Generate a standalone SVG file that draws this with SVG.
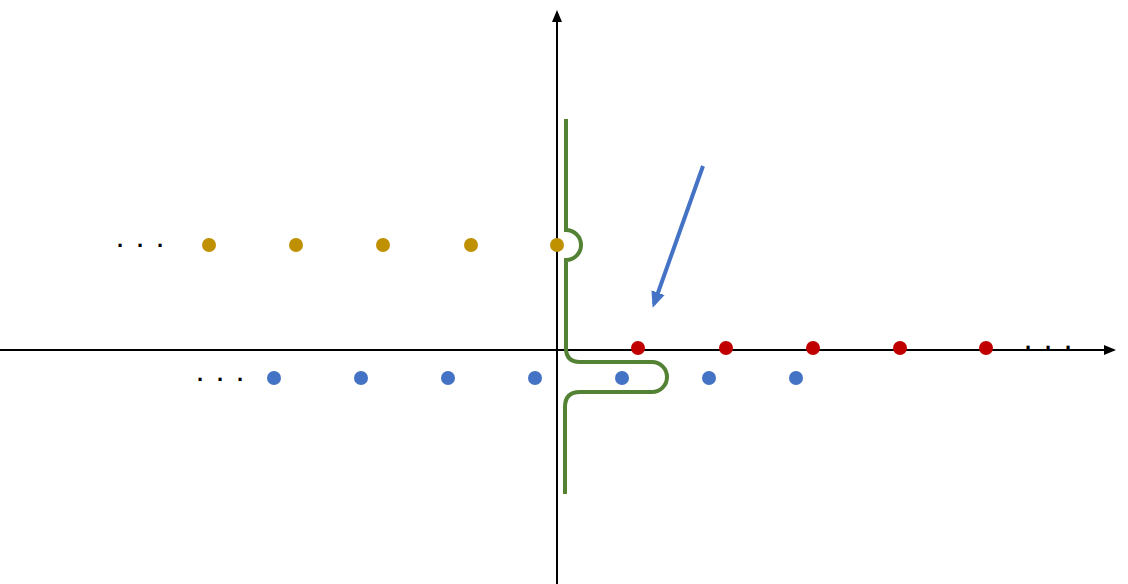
<svg xmlns="http://www.w3.org/2000/svg" width="1128" height="584" viewBox="0 0 1128 584">
<style>
.ax{stroke:#000;stroke-width:2;fill:none}
.g{fill:#BF9000}.r{fill:#C00000}.b{fill:#4472C4}
.el{font-family:"Liberation Sans",sans-serif;font-size:22px;font-weight:bold;fill:#000}
</style>
<defs>
<marker id="ah" markerWidth="12" markerHeight="12" refX="10" refY="6" orient="auto" markerUnits="userSpaceOnUse" viewBox="0 0 12 12"><path d="M0,1L12,6L0,11z" fill="#000"/></marker>
<marker id="bh" markerWidth="16" markerHeight="16" refX="12" refY="8" orient="auto" markerUnits="userSpaceOnUse" viewBox="0 0 16 16"><path d="M0,1L16,8L0,15z" fill="#4472C4"/></marker>
</defs>
<g id="connectors">
<line class="ax" x1="0" y1="350" x2="1114" y2="350" marker-end="url(#ah)"/>
<line class="ax" x1="557" y1="584" x2="557" y2="12" marker-end="url(#ah)"/>
<path d="M566,119V230A15,15 0 0 1 566,260V348Q566,362 580,362H652A15,15 0 0 1 652,392H580Q565,392 565,407V494" fill="none" stroke="#548235" stroke-width="4"/>
<line x1="703" y1="166" x2="654" y2="304" stroke="#4472C4" stroke-width="4" marker-end="url(#bh)"/>
</g>
<g id="gold"><circle class="g" cx="209" cy="245" r="7"/><circle class="g" cx="296" cy="245" r="7"/><circle class="g" cx="383" cy="245" r="7"/><circle class="g" cx="471" cy="245" r="7"/><circle class="g" cx="557" cy="245" r="7"/></g>
<g id="red"><circle class="r" cx="638" cy="348" r="7"/><circle class="r" cx="726" cy="348" r="7"/><circle class="r" cx="813" cy="348" r="7"/><circle class="r" cx="900" cy="348" r="7"/><circle class="r" cx="986" cy="348" r="7"/></g>
<g id="blue"><circle class="b" cx="274" cy="378" r="7"/><circle class="b" cx="361" cy="378" r="7"/><circle class="b" cx="448" cy="378" r="7"/><circle class="b" cx="535" cy="378" r="7"/><circle class="b" cx="622" cy="378" r="7"/><circle class="b" cx="709" cy="378" r="7"/><circle class="b" cx="796" cy="378" r="7"/></g>
<g id="ellipses">
<text class="el" x="117" y="247" textLength="46">. . .</text>
<text class="el" x="197" y="381" textLength="46">. . .</text>
<text class="el" x="1025" y="349" textLength="46">. . .</text>
</g>
</svg>
